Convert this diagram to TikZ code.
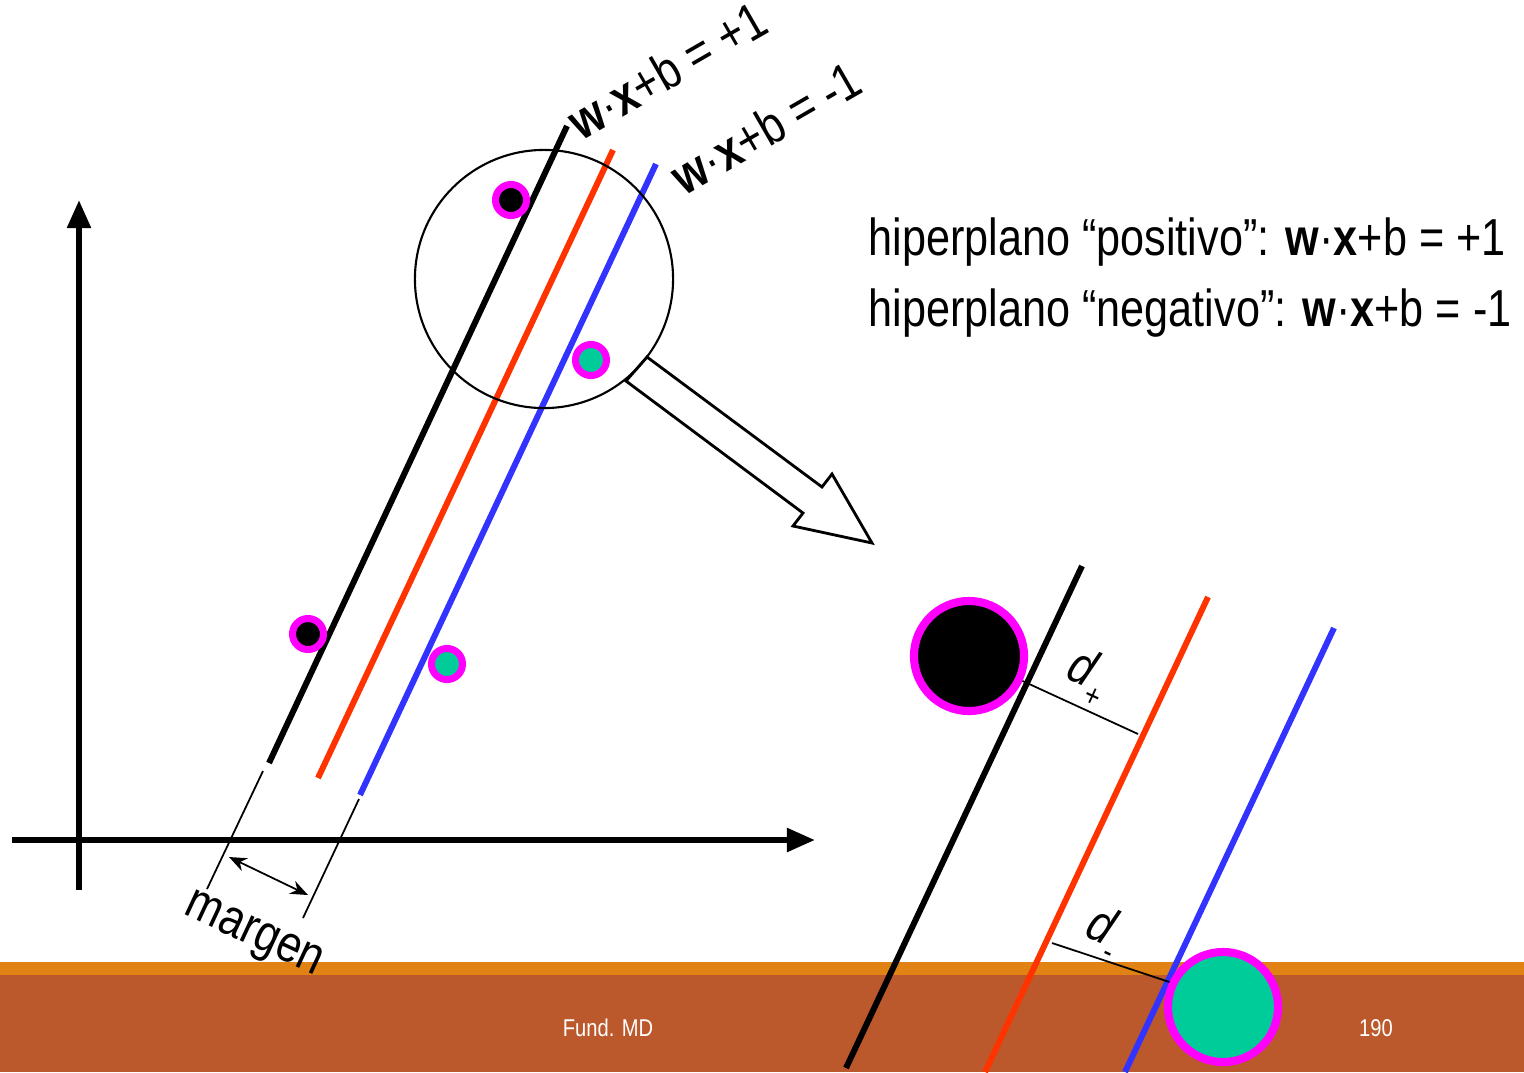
\documentclass[tikz,border=0pt]{standalone}
\usepackage{fontspec}
\setmainfont{Liberation Sans}[FakeStretch=0.83]
\usetikzlibrary{arrows.meta, positioning, calc}
\definecolor{LineRed}{RGB}{255,51,0}
\definecolor{LineBlue}{RGB}{51,51,255}
\definecolor{RingMagenta}{RGB}{255,0,255}
\definecolor{PointTeal}{RGB}{0,204,153}
\definecolor{BandOrange}{RGB}{224,130,20}
\definecolor{FootBrown}{RGB}{188,89,44}
\newcommand{\wxb}{\textbf{w}·\textbf{x}+b}

\begin{document}
\begin{tikzpicture}[x=0.01cm, y=-0.01cm,
	axis/.style={line width=1.7pt, -{Triangle[length=8pt, width=6.5pt]}},
	plane/.style={line width=1.7pt},
	thinline/.style={line width=0.5pt},
	smallpt/.style={circle, draw=RingMagenta, line width=2pt, inner sep=0pt, minimum size=0.31cm},
	bigpt/.style={circle, draw=RingMagenta, line width=2.3pt, inner sep=0pt, minimum size=1.1cm},
	lbl/.style={font=\fontsize{14.8}{17}\selectfont, inner sep=0pt}]
	\useasboundingbox (0,0) rectangle (1524,1072);
	% pie de pagina
	\fill[BandOrange] (0,962) rectangle (1524,976);
	\fill[FootBrown] (0,975) rectangle (1524,1072);
	\node[text=white, font=\fontsize{6.9}{8}\selectfont] (foot) at (608,1028) {Fund. MD};
	\node[text=white, font=\fontsize{6.9}{8}\selectfont] (page) at (1376,1028) {190};
	% ejes
	\draw[axis] (79,890) -- (79,200);
	\draw[axis] (12,840) -- (815,840);
	% hiperplanos
	\draw[plane, black] (269,763) -- (567,126);
	\draw[plane, LineRed] (318,778) -- (613,150);
	\draw[plane, LineBlue] (360,795) -- (656,164);
	\node[lbl, rotate=30] (pos) at (667,70) {\wxb{} = +1};
	\node[lbl, rotate=30] (neg) at (766,128) {\wxb{} = -1};
	% puntos
	\node[smallpt, fill=black] (p1) at (511,200) {};
	\node[smallpt, fill=black] (p2) at (308,634) {};
	\node[smallpt, fill=PointTeal] (n1) at (591,360) {};
	\node[smallpt, fill=PointTeal] (n2) at (447,664) {};
	% margen
	\coordinate (m1a) at (263,771);
	\coordinate (m1b) at (207,889);
	\coordinate (m2a) at (359,799);
	\coordinate (m2b) at (303,918);
	\draw[thinline] (m1a) -- (m1b);
	\draw[thinline] (m2a) -- (m2b);
	\draw[thinline, {Stealth[length=5pt, width=4pt]}-{Stealth[length=5pt, width=4pt]}] (229,857) -- (308,895);
	\node[lbl, rotate=-25] (margen) at (253,937) {margen};
	% zoom
	\node[circle, draw, line width=0.6pt, minimum size=2.58cm, inner sep=0pt] (lupa) at (544,279) {};
	\draw[line width=0.8pt, line join=miter] (647,357) -- (822,487) -- (832,474) -- (872,543)
		-- (793,526) -- (803,513) -- (626,381) -- cycle;
	% vista ampliada
	\draw[plane, black] (1082,566) -- (846,1068);
	\draw[plane, LineRed] (1208,597) -- (985,1072);
	\draw[plane, LineBlue] (1334,628) -- (1125,1072);
	\node[bigpt, fill=black] (bp) at (969,656) {};
	\node[bigpt, fill=PointTeal] (bn) at (1223,1007) {};
	\coordinate (dpr) at (1138,734);
	\coordinate (dnr) at (1052,943);
	\draw[thinline] (bp.-25) -- (dpr);
	\draw[thinline] (dnr) -- (bn.155);
	\node[lbl, rotate=-25] (dplus) at (1088,676) {\textit{d}\raisebox{-0.55ex}{\fontsize{9}{10}\selectfont +}};
	\node[lbl, rotate=-25] (dminus) at (1104,932) {\textit{d}\raisebox{-0.55ex}{\fontsize{9}{10}\selectfont -}};
	% texto
	\node[lbl, anchor=base west] (tpos) at (868,255) {hiperplano “positivo”: \wxb{} = +1};
	\node[lbl, anchor=base west] (tneg) at (868,326) {hiperplano “negativo”: \wxb{} = -1};
\end{tikzpicture}
\end{document}
